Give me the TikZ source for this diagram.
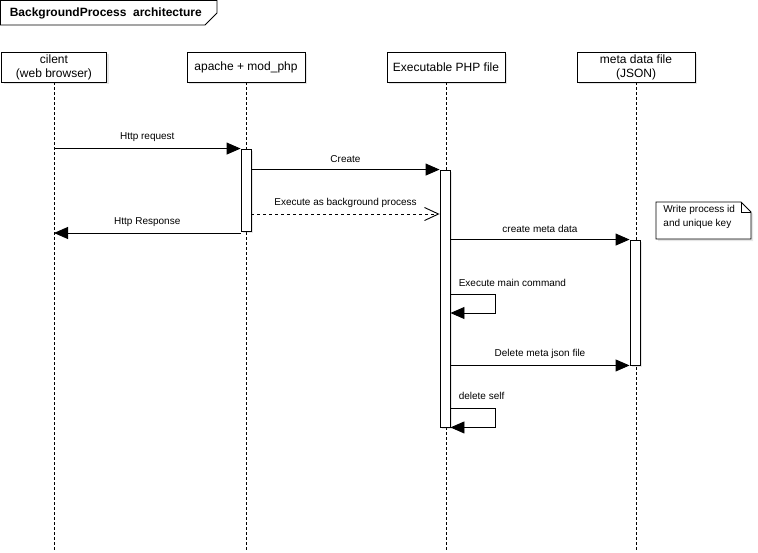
\documentclass[tikz,border=0pt]{standalone}
\usepackage{fontspec}
\setmainfont{Liberation Sans}
\usetikzlibrary{arrows.meta,shadows}

\begin{document}
\begin{tikzpicture}[x=1pt, y=-1pt, line width=0.9pt,
		>={Triangle[length=14pt,width=12pt]},
		shade/.style={drop shadow={shadow xshift=2pt, shadow yshift=-2pt, opacity=0.2}},
		head/.style={draw, fill=white, shade, minimum height=30pt, inner sep=0pt, align=center, font=\fontsize{12}{14}\selectfont},
		act/.style={draw, fill=white, shade, minimum width=10pt, inner sep=0pt},
		life/.style={dash pattern=on 3pt off 2pt, line width=0.7pt},
		msg/.style={font=\fontsize{10}{12}\selectfont}]
		\useasboundingbox (0,0) rectangle (758,552);
		% frame title
		\draw (0.5,0.5) -- (217,0.5) -- (217,13) -- (205,25) -- (0.5,25) -- cycle;
		\node[anchor=west, font=\bfseries\fontsize{12}{14}\selectfont] (title) at (6,13) {BackgroundProcess~ architecture};
		% lifeline heads
		\node[head, minimum width=105pt] (client) at (54,67) {cilent\\(web browser)};
		\node[head, minimum width=118pt] (apache) at (246,67) {apache + mod\_php};
		\node[head, minimum width=118pt] (php) at (446,67) {Executable PHP file};
		\node[head, minimum width=118pt] (meta) at (636,67) {meta data file\\(JSON)};
		% lifelines
		\foreach \n in {client,apache,php,meta}
			\draw[life] (\n.south) -- (\n.south |- 0,552);
		% activations
		\node[act, minimum height=82pt] (apache-act) at (246,190) {};
		\node[act, minimum height=257pt] (php-act) at (445,298.5) {};
		\node[act, minimum height=125pt] (meta-act) at (635,302.5) {};
		% message rows
		\coordinate (bg) at (0,214);
		\coordinate (resp) at (0,233);
		\coordinate (main) at (495,294);
		\coordinate (self) at (495,408);
		% messages
		\draw[->] (client |- apache-act.north west) -- (apache-act.north west)
			node[midway, above=3pt, msg] {Http request};
		\draw[->] (apache-act.east |- php-act.north west) -- (php-act.north west)
			node[midway, above=3pt, msg] {Create};
		\draw[dashed, -{Straight Barb[length=14pt,width=13pt]}] (apache-act.east |- bg) -- (php-act.west |- bg)
			node[midway, above=3pt, msg] {Execute as background process};
		\draw[->] (apache-act.west |- resp) -- (client |- resp)
			node[midway, above=3pt, msg] {Http Response};
		\draw[->] (php-act.east |- meta-act.north west) -- (meta-act.north west)
			node[midway, above=3pt, msg] {create meta data};
		\draw[->] (php-act.east |- main) -- (main) |- (php-act.east |- 0,313);
		\node[msg, anchor=west] (main-lbl) at (455,283) {Execute main command};
		\draw[->] (php-act.east |- meta-act.south west) -- (meta-act.south west)
			node[midway, above=3pt, msg] {Delete meta json file};
		\draw[->] (php-act.east |- self) -- (self) |- (php-act.south east);
		\node[msg, anchor=west] (self-lbl) at (455,396) {delete self};
		% note
		\draw[fill=white, shade] (656,202) -- (741,202) -- (751,212) -- (751,239) -- (656,239) -- cycle;
		\draw (741,202) -- (741,212) -- (751,212);
		\node[msg, anchor=north west, align=left, inner sep=0pt, font=\fontsize{10}{14}\selectfont] (note) at (663,205) {Write process id\\and unique key};
	\end{tikzpicture}
\end{document}
